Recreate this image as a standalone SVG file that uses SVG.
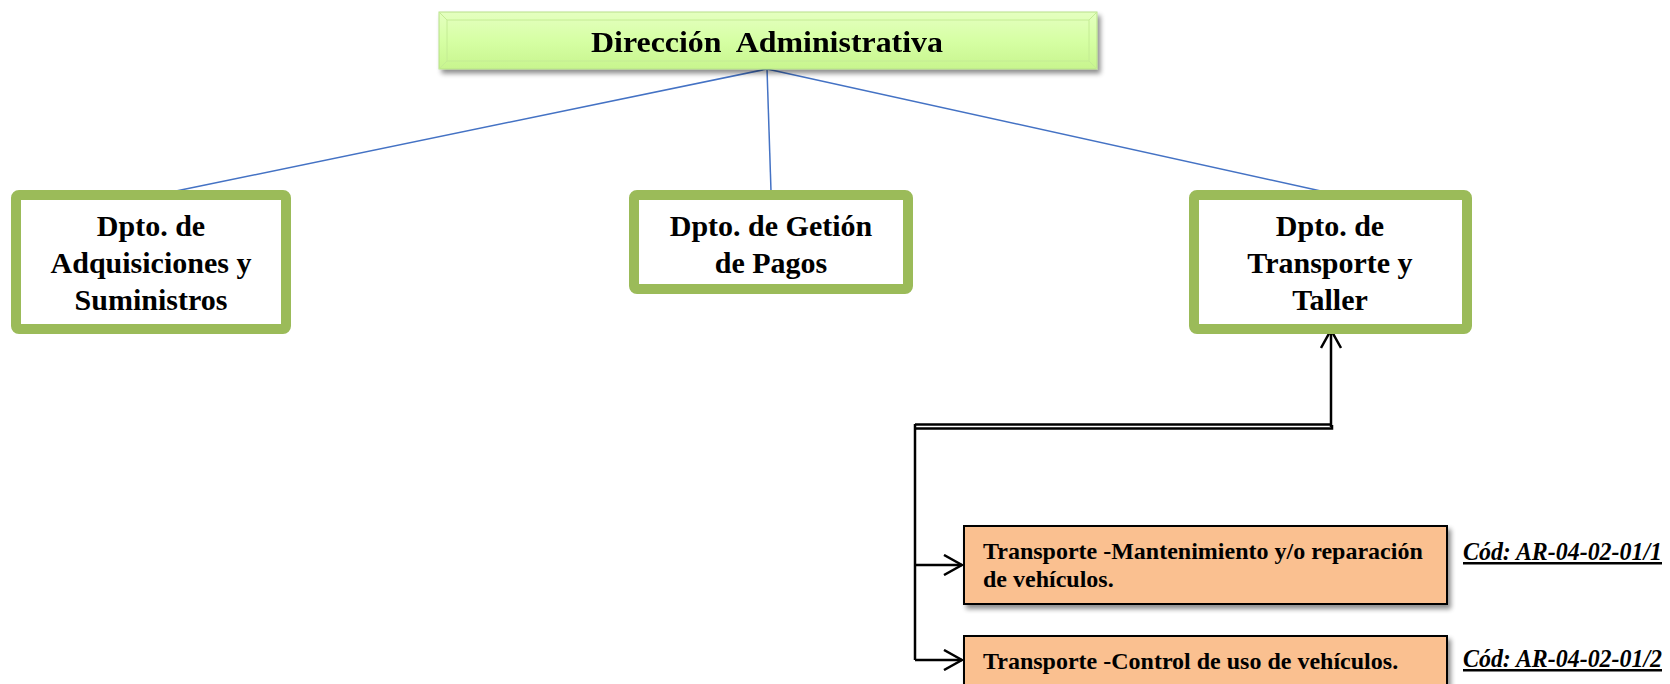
<svg xmlns="http://www.w3.org/2000/svg" width="1670" height="684" viewBox="0 0 1670 684">
<defs>
<linearGradient id="gTop" x1="0" y1="0" x2="0" y2="1">
<stop offset="0" stop-color="#e4ffc0"/>
<stop offset="0.5" stop-color="#d6ffa4"/>
<stop offset="1" stop-color="#c8f58e"/>
</linearGradient>
<filter id="sh" x="-5%" y="-20%" width="115%" height="150%">
<feGaussianBlur in="SourceAlpha" stdDeviation="2.5"/>
<feOffset dx="3" dy="4" result="b"/>
<feComponentTransfer><feFuncA type="linear" slope="0.45"/></feComponentTransfer>
<feMerge><feMergeNode/><feMergeNode in="SourceGraphic"/></feMerge>
</filter>
<marker id="arr" viewBox="0 0 22 22" refX="20" refY="11" markerWidth="22" markerHeight="22" markerUnits="userSpaceOnUse" orient="auto">
<path d="M2,1 L20,11 L2,21" fill="none" stroke="#000" stroke-width="2.5"/>
</marker>
</defs>
<style>
.g{fill:#fff;stroke:#9bbb59;stroke-width:10;stroke-linejoin:round}
.big{font-family:"Liberation Serif",serif;font-weight:bold;font-size:30px;fill:#000;text-anchor:middle}
.sm{font-family:"Liberation Serif",serif;font-weight:bold;font-size:24px;fill:#000}
.cod{font-family:"Liberation Serif",serif;font-weight:bold;font-style:italic;font-size:25px;fill:#000;text-decoration:underline}
.o{fill:#fac090;stroke:#000;stroke-width:2}
.bl{fill:none;stroke:#4472c4;stroke-width:1.5}
.k{fill:none;stroke:#000;stroke-width:2.5}
</style>
<rect width="1670" height="684" fill="#fff"/>
<g id="connectors">
<line class="bl" x1="767" y1="69" x2="176" y2="191"/>
<line class="bl" x1="767" y1="69" x2="771" y2="191"/>
<line class="bl" x1="767" y1="69" x2="1330" y2="193"/>
<path class="k" d="M1331,427 V330" marker-end="url(#arr)"/>
<path class="k" d="M915,424.5 H1331"/>
<path class="k" d="M915,428.5 H1332 V425"/>
<path class="k" d="M915,424 V660"/>
<path class="k" d="M915,565 H962" marker-end="url(#arr)"/>
<path class="k" d="M915,660 H962" marker-end="url(#arr)"/>
</g>
<g id="n-direccion" filter="url(#sh)">
<rect x="439" y="12" width="658" height="57" fill="url(#gTop)" stroke="#b8e08a" stroke-width="1"/>
<path d="M439,12 L447,20 H1089 L1097,12 M439,69 L447,61 H1089 L1097,69 M447,20 V61 M1089,20 V61" fill="none" stroke="#c4ec94" stroke-width="1"/>
<text class="big" x="767" y="52" font-size="34" textLength="352" lengthAdjust="spacingAndGlyphs">Dirección&#160; Administrativa</text>
</g>
<g id="n-adquisiciones">
<rect class="g" x="16" y="195" width="270" height="134" rx="3"/>
<text class="big" x="151" y="236">Dpto. de</text>
<text class="big" x="151" y="273">Adquisiciones y</text>
<text class="big" x="151" y="310">Suministros</text>
</g>
<g id="n-pagos">
<rect class="g" x="634" y="195" width="274" height="94" rx="3"/>
<text class="big" x="771" y="236">Dpto. de Getión</text>
<text class="big" x="771" y="273">de Pagos</text>
</g>
<g id="n-transporte">
<rect class="g" x="1194" y="195" width="273" height="134" rx="3"/>
<text class="big" x="1330" y="236">Dpto. de</text>
<text class="big" x="1330" y="273">Transporte y</text>
<text class="big" x="1330" y="310">Taller</text>
</g>
<g id="n-mantenimiento">
<rect class="o" x="964" y="526" width="483" height="78" filter="url(#sh)"/>
<text class="sm" x="983" y="559">Transporte -Mantenimiento y/o reparación</text>
<text class="sm" x="983" y="587">de vehículos.</text>
</g>
<g id="n-control">
<rect class="o" x="964" y="636" width="483" height="70" filter="url(#sh)"/>
<text class="sm" x="983" y="669">Transporte -Control de uso de vehículos.</text>
</g>
<g id="cod1">
<text class="cod" x="1463" y="560" textLength="199" lengthAdjust="spacingAndGlyphs">Cód: AR-04-02-01/1</text>
</g>
<g id="cod2">
<text class="cod" x="1463" y="667" textLength="199" lengthAdjust="spacingAndGlyphs">Cód: AR-04-02-01/2</text>
</g>
</svg>
